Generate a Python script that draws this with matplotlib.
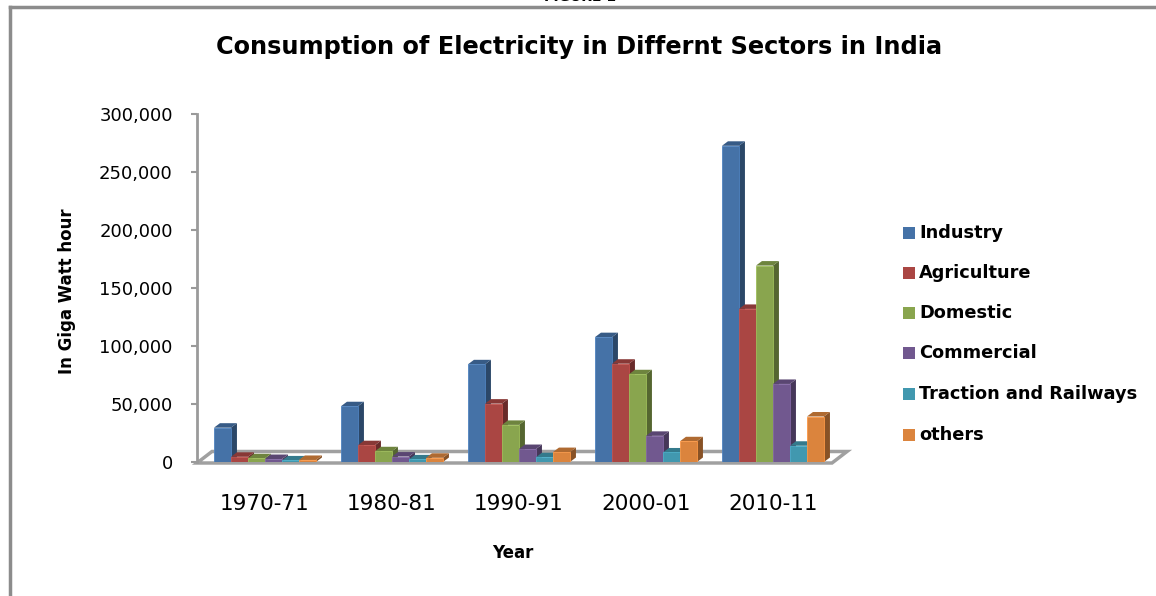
"""Consumption of electricity by sector in India, Excel-style 3D column chart."""

import matplotlib
matplotlib.use("Agg")
import matplotlib.pyplot as plt
import numpy as np
from matplotlib.colors import to_rgb
from matplotlib.patches import Polygon, Rectangle
from matplotlib.lines import Line2D
from matplotlib.ticker import FuncFormatter

years = ["1970-71", "1980-81", "1990-91", "2000-01", "2010-11"]
sectors = ["Industry", "Agriculture", "Domestic", "Commercial",
           "Traction and Railways", "others"]
industry = [29579, 48069, 84209, 107622, 272589]
agriculture = [4470, 14489, 50321, 84729, 131967]
domestic = [3184, 9246, 31982, 75629, 169326]
commercial = [2573, 4682, 11181, 22545, 67289]
traction = [1364, 2266, 4112, 8213, 14003]
others = [1751, 3615, 8552, 17862, 39218]
series = [industry, agriculture, domestic, commercial, traction, others]
colors = ["#4572A7", "#AA4643", "#89A54E", "#71588F", "#4198AF", "#DB843D"]

W, H = 1156, 596
fig = plt.figure(figsize=(W / 100, H / 100), dpi=100)

# plot area in pixel terms of the reference
ax_l, ax_r, ax_b, ax_t = 197, 857, 462, 114
ax = fig.add_axes([ax_l / W, 1 - ax_b / H, (ax_r - ax_l) / W, (ax_b - ax_t) / H])
group_px = 127.0
x0 = -0.535
ax.set_xlim(x0, x0 + (ax_r - ax_l) / group_px)
ax.set_ylim(0, 300000)

px_x = group_px                      # px per x unit
px_y = (ax_b - ax_t) / 300000.0      # px per y unit

bar_w = 17 / group_px
dx, dy = 6 / px_x, 4.5 / px_y        # bar depth
fdx, fdy = 15 / px_x, 10.5 / px_y    # floor depth


def shade(c, f):
    return tuple(np.clip(np.array(to_rgb(c)) * f, 0, 1))


# floor
x_end = x0 + len(years)
floor = Polygon([(x0, -1 / px_y), (x_end, -1 / px_y),
                 (x_end + fdx, fdy), (x0 + fdx, fdy)],
                closed=True, facecolor="white", edgecolor="#a0a0a0",
                lw=2.5, clip_on=False, zorder=1)
ax.add_patch(floor)

xs = np.arange(len(years))
for j, (vals, c) in enumerate(zip(series, colors)):
    pos = xs + (j - 2.5) * bar_w
    z = 3 + j
    ax.bar(pos, vals, width=bar_w, color=c, edgecolor=shade(c, 1.15),
           lw=0.6, zorder=z + 0.5)
    for p, v in zip(pos, vals):
        xr = p + bar_w / 2
        xl = p - bar_w / 2
        side = Polygon([(xr, 0), (xr + dx, dy), (xr + dx, v + dy), (xr, v)],
                       closed=True, facecolor=shade(c, 0.62), lw=0,
                       zorder=z, clip_on=False)
        top = Polygon([(xl, v), (xr, v), (xr + dx, v + dy), (xl + dx, v + dy)],
                      closed=True, facecolor=shade(c, 0.8), lw=0,
                      zorder=z, clip_on=False)
        ax.add_patch(side)
        ax.add_patch(top)

for s in ["top", "right", "bottom"]:
    ax.spines[s].set_visible(False)
ax.spines["left"].set_color("#9a9a9a")
ax.spines["left"].set_linewidth(2)
ax.set_yticks(np.arange(0, 300001, 50000))
ax.yaxis.set_major_formatter(FuncFormatter(lambda v, _: f"{int(v):,}"))
ax.tick_params(axis="y", length=4, width=1.5, color="#9a9a9a",
               labelsize=13, pad=13.5)
ax.set_xticks(xs)
ax.set_xticklabels(years)
ax.tick_params(axis="x", length=0, labelsize=15.5, pad=23)

# texts
fig.text(579 / W, 1 - 47 / H, "Consumption of Electricity in Differnt Sectors in India",
         ha="center", va="center", fontsize=17.3, fontweight="bold")
fig.text(67 / W, 1 - 291 / H, "In Giga Watt hour", rotation=90,
         ha="center", va="center", fontsize=12, fontweight="bold")
fig.text(513 / W, 1 - 553 / H, "Year", ha="center", va="center",
         fontsize=12, fontweight="bold")
# caption of the page above the chart, cut by the top edge as in the source
fig.text(580 / W, 1 + 3 / H, "FIGURE 1", ha="center", va="center",
         fontsize=10, fontweight="bold")

# legend
leg_y = [233, 273, 313, 353, 394, 435]
for name, c, y in zip(sectors, colors, leg_y):
    fig.patches.append(Rectangle((903 / W, 1 - (y + 6) / H), 12 / W, 12 / H,
                                 transform=fig.transFigure, facecolor=c,
                                 edgecolor="none"))
    fig.text(919 / W, 1 - y / H, name, ha="left", va="center",
             fontsize=12.8, fontweight="bold")

# chart border
fig.add_artist(Line2D([10 / W, 1], [1 - 7 / H, 1 - 7 / H], color="#8c8c8c", lw=2.5))
fig.add_artist(Line2D([10 / W, 10 / W], [0, 1 - 7 / H], color="#8c8c8c", lw=2.5))

fig.savefig("out.png", dpi=100)
